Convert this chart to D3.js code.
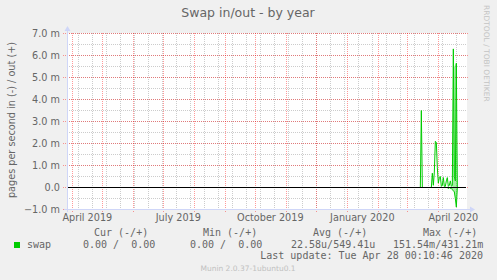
<!DOCTYPE html>
<html>
<head>
<meta charset="utf-8">
<script src="https://cdn.jsdelivr.net/npm/d3@7"></script>
<style>
  html, body { margin: 0; padding: 0; background: #f0f0f0; }
  svg { display: block; }
  text { font-family: "DejaVu Sans", sans-serif; fill: #666666; }
  .mono { font-family: "DejaVu Sans Mono", monospace; white-space: pre; }
</style>
</head>
<body>
<svg id="chart"></svg>
<script>
// data, values in milli pages/s
const dates = ["2019-03-27", "2020-03-14", "2020-03-15", "2020-03-16", "2020-03-25",
  "2020-03-26", "2020-03-27", "2020-03-28", "2020-03-29", "2020-03-30", "2020-03-31",
  "2020-04-01", "2020-04-02", "2020-04-03", "2020-04-04", "2020-04-05", "2020-04-06",
  "2020-04-07", "2020-04-08", "2020-04-09", "2020-04-10", "2020-04-11", "2020-04-12",
  "2020-04-13", "2020-04-14", "2020-04-15", "2020-04-16", "2020-04-17", "2020-04-18",
  "2020-04-19", "2020-04-20", "2020-04-27"];
const swapOut = [0, 0, 3.5, 0, 0,
  0.65, 0.1, 0.7, 2.1, 2.05, 0.9,
  0.2, 0.45, 0.5, 0.05, 0.1, 0.45,
  0.05, 0.05, 0.3, 0.45, 0.05, 0.1,
  0.3, 0.05, 0.1, 6.3, 0.5, 0.3,
  5.65, 0, 0];
const swapIn = [0, 0, 0, 0, 0,
  0, 0, 0, 0, 0, 0,
  0, 0, 0, 0, 0, 0,
  0, 0, 0, 0, -0.05, 0,
  -0.05, 0, -0.1, -0.15, -0.2, -0.5,
  -0.89, 0, 0];
// spread of the busy days (min/max within a day, drawn light)
const bandDates = ["2020-04-15", "2020-04-16", "2020-04-17", "2020-04-18", "2020-04-19", "2020-04-20"];
const bandHigh = [0.1, 5.4, 5.5, 5.6, 5.65, 0];
const bandLow = [-0.1, -0.15, -0.2, -0.5, -0.89, 0];
const yTicks = [-1, 0, 1, 2, 3, 4, 5, 6, 7];
const xLabels = ["2019-04-01", "2019-07-01", "2019-10-01", "2020-01-01", "2020-04-01"];
const legendHead = ["Cur (-/+)", "Min (-/+)", "Avg (-/+)", "Max (-/+)"];
const legendVals = ["0.00 /  0.00", "0.00 /  0.00", "22.58u/549.41u", "151.54m/431.21m"];

const W = 497, H = 280;
const parse = d3.timeParse("%Y-%m-%d");
const svg = d3.select("#chart").attr("width", W).attr("height", H);

const x = d3.scaleTime()
  .domain([new Date(2019, 2, 26, 16), new Date(2020, 3, 29, 16)])
  .range([67, 467]);
const y = d3.scaleLinear().domain([-1, 7]).range([209.5, 33.5]);
const px = v => Math.floor(v) + 0.5;

svg.append("rect").attr("width", W).attr("height", H).attr("fill", "#f0f0f0");
svg.append("rect").attr("x", 67).attr("y", 33).attr("width", 400).attr("height", 176).attr("fill", "#fff");

// grid
const grid = svg.append("g").attr("stroke-width", 1).attr("stroke-dasharray", "1,1").attr("shape-rendering", "crispEdges");
const minorY = d3.range(-1, 7.01, 0.5);
grid.selectAll(".my").data(minorY).join("line")
  .attr("x1", 67).attr("x2", 467)
  .attr("y1", d => px(y(d))).attr("y2", d => px(y(d)))
  .attr("stroke", "rgba(128,128,128,0.4)");
const weeks = d3.range(0, 30).map(i => d3.timeDay.offset(new Date(2019, 3, 7), 14 * i))
  .filter(d => d < x.domain()[1]);
grid.selectAll(".mx").data(weeks).join("line")
  .attr("x1", d => px(x(d))).attr("x2", d => px(x(d)))
  .attr("y1", 33).attr("y2", 209)
  .attr("stroke", "rgba(128,128,128,0.4)");
grid.selectAll(".Mx").data(d3.timeMonth.range(new Date(2019, 3, 1), x.domain()[1])).join("line")
  .attr("x1", d => px(x(d))).attr("x2", d => px(x(d)))
  .attr("y1", 33).attr("y2", 212)
  .attr("stroke", "rgba(255,0,0,0.4)");
grid.selectAll(".My").data(yTicks).join("line")
  .attr("x1", 63).attr("x2", 469)
  .attr("y1", d => px(y(d))).attr("y2", d => px(y(d)))
  .attr("stroke", "rgba(255,0,0,0.4)");

// y labels
svg.append("g").selectAll("text").data(yTicks).join("text")
  .attr("x", 60).attr("y", d => y(d) + 3.5)
  .attr("text-anchor", "end").attr("font-size", 9.7)
  .text(d => d === 0 ? "0.0" : d3.format(".1f")(d) + " m");

// x labels, centred half a month after the tick
svg.append("g").selectAll("text").data(xLabels.map(parse)).join("text")
  .attr("x", d => x(d3.timeDay.offset(d, 15.5)))
  .attr("y", 221).attr("text-anchor", "middle").attr("font-size", 9.7)
  .text(d3.timeFormat("%B %Y"));

// series
const band = bandDates.map((d, i) => ({ t: parse(d), hi: bandHigh[i], lo: bandLow[i] }));
svg.append("path").datum(band)
  .attr("d", d3.area().x(d => x(d.t)).y0(d => y(d.lo)).y1(d => y(d.hi)))
  .attr("fill", "#00cc00").attr("fill-opacity", 0.35);
const pts = dates.map((d, i) => ({ t: parse(d), o: swapOut[i], n: swapIn[i] }));
const lineOut = d3.line().x(d => x(d.t)).y(d => y(d.o));
const lineIn = d3.line().x(d => x(d.t)).y(d => y(d.n));
svg.append("path").datum(pts).attr("d", lineOut).attr("fill", "none").attr("stroke", "#00cc00").attr("stroke-width", 1);
svg.append("path").datum(pts).attr("d", lineIn).attr("fill", "none").attr("stroke", "#00cc00").attr("stroke-width", 1);

// zero line
svg.append("line").attr("x1", 67).attr("x2", 466)
  .attr("y1", px(y(0))).attr("y2", px(y(0)))
  .attr("stroke", "#000").attr("stroke-width", 1).attr("shape-rendering", "crispEdges");

// axes with arrows
const axisC = "#cfd6f8";
svg.append("line").attr("x1", 64).attr("x2", 470).attr("y1", 209.5).attr("y2", 209.5).attr("stroke", axisC).attr("shape-rendering", "crispEdges");
svg.append("line").attr("x1", 67.5).attr("x2", 67.5).attr("y1", 212).attr("y2", 30).attr("stroke", axisC).attr("shape-rendering", "crispEdges");
svg.append("path").attr("d", "M470,206.5 L475,209.5 L470,212.5 Z").attr("fill", axisC);
svg.append("path").attr("d", "M64.5,31 L67.5,26 L70.5,31 Z").attr("fill", axisC);

// titles
svg.append("text").attr("x", 248).attr("y", 17).attr("text-anchor", "middle")
  .attr("font-size", 12.5).text("Swap in/out - by year");
svg.append("text").attr("transform", "translate(15,120) rotate(-90)")
  .attr("text-anchor", "middle").attr("font-size", 9.7)
  .text("pages per second in (-) / out (+)");
svg.append("text").attr("transform", "translate(484,5) rotate(90)")
  .attr("font-size", 7.5).style("fill", "#c4c4c4")
  .text("RRDTOOL / TOBI OETIKER");

// legend
svg.append("rect").attr("x", 14).attr("y", 242).attr("width", 6).attr("height", 6).attr("fill", "#00cc00");
svg.append("text").attr("class", "mono").attr("x", 27).attr("y", 248).attr("font-size", 10).text("swap");
const headX = [94, 203, 313, 423];
const valX = [83, 190, 291, 393];
svg.append("g").selectAll("text").data(legendHead).join("text")
  .attr("class", "mono").attr("x", (d, i) => headX[i]).attr("y", 236).attr("font-size", 10).text(d => d);
svg.append("g").selectAll("text").data(legendVals).join("text")
  .attr("class", "mono").attr("x", (d, i) => valX[i]).attr("y", 248).attr("font-size", 10).text(d => d);
svg.append("text").attr("class", "mono").attr("x", 483).attr("y", 259).attr("text-anchor", "end")
  .attr("font-size", 10).text("Last update: Tue Apr 28 00:10:46 2020");
svg.append("text").attr("x", 248).attr("y", 271).attr("text-anchor", "middle")
  .attr("font-size", 7.5).style("fill", "#c0c0c0").text("Munin 2.0.37-1ubuntu0.1");
</script>
</body>
</html>
